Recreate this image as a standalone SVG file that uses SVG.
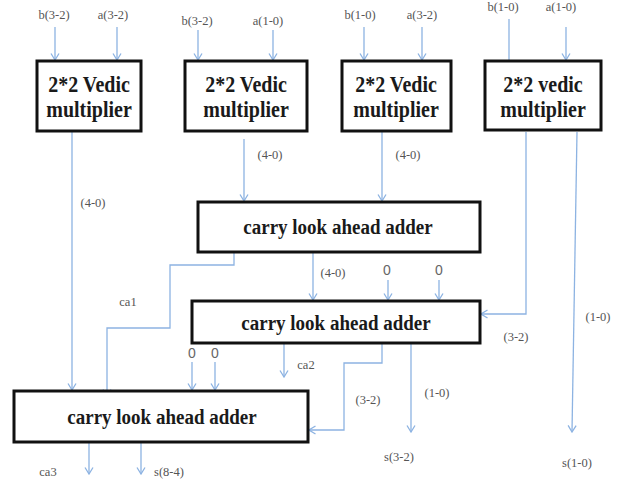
<svg xmlns="http://www.w3.org/2000/svg" width="623" height="479" viewBox="0 0 623 479">
<defs>
<marker id="arr" markerUnits="userSpaceOnUse" markerWidth="8" markerHeight="10" viewBox="0 0 8 10" refX="7" refY="5" orient="auto">
<path d="M0.5,1 L7,5 L0.5,9" fill="none" stroke="#8db3e2" stroke-width="1.3"/>
</marker>
</defs>
<style>
.box{fill:#fff;stroke:#111;stroke-width:3}
.big{font-weight:bold;font-size:20px;fill:#1a1a1a;text-anchor:middle}
.cla{font-weight:bold;font-size:19px;fill:#1a1a1a;text-anchor:middle}
.lbl{font-size:12.5px;fill:#555;text-anchor:middle}
.zero{font-size:14px;fill:#666;text-anchor:middle}
.w{fill:none;stroke:#8db3e2;stroke-width:1.3}
.a{marker-end:url(#arr)}
</style>
<rect width="623" height="479" fill="#fff"/>

<g id="connectors">
<line class="w a" x1="55" y1="27" x2="55" y2="60"/>
<line class="w a" x1="117" y1="27" x2="117" y2="60"/>
<line class="w a" x1="198" y1="30" x2="198" y2="60"/>
<line class="w a" x1="273" y1="30" x2="273" y2="60"/>
<line class="w a" x1="364" y1="27" x2="364" y2="60"/>
<line class="w a" x1="422" y1="27" x2="422" y2="60"/>
<line class="w" x1="509" y1="19" x2="509" y2="60"/>
<line class="w a" x1="566" y1="27" x2="566" y2="60"/>
<line class="w a" x1="72" y1="132" x2="72" y2="390"/>
<line class="w a" x1="244" y1="139" x2="244" y2="201"/>
<line class="w a" x1="382" y1="132" x2="382" y2="201"/>
<polyline class="w a" points="526,132 526,314 481,314"/>
<line class="w a" x1="577" y1="132" x2="572" y2="432"/>
<polyline class="w a" points="234,246 234,265 170,265 170,328 107,328 107,396"/>
<line class="w a" x1="313" y1="253" x2="313" y2="300"/>
<line class="w a" x1="388" y1="280" x2="388" y2="300"/>
<line class="w a" x1="439" y1="280" x2="439" y2="300"/>
<line class="w a" x1="284" y1="344" x2="284" y2="377"/>
<polyline class="w a" points="382,337 382,363 344,363 344,430 309,430"/>
<line class="w a" x1="411" y1="344" x2="411" y2="432"/>
<line class="w a" x1="192" y1="362" x2="192" y2="390"/>
<line class="w a" x1="215" y1="362" x2="215" y2="390"/>
<line class="w a" x1="89" y1="443" x2="89" y2="474"/>
<line class="w a" x1="141" y1="443" x2="141" y2="474"/>
</g>

<g id="labels" font-family="'Liberation Serif', 'DejaVu Serif', 'Noto Serif', serif">
<text class="lbl" x="54" y="19">b(3-2)</text>
<text class="lbl" x="113" y="19">a(3-2)</text>
<text class="lbl" x="197" y="25">b(3-2)</text>
<text class="lbl" x="268" y="25">a(1-0)</text>
<text class="lbl" x="360" y="19">b(1-0)</text>
<text class="lbl" x="422" y="19">a(3-2)</text>
<text class="lbl" x="503" y="11">b(1-0)</text>
<text class="lbl" x="561" y="11">a(1-0)</text>
<text class="lbl" x="93" y="207">(4-0)</text>
<text class="lbl" x="270" y="159">(4-0)</text>
<text class="lbl" x="408" y="159">(4-0)</text>
<text class="lbl" x="333" y="277">(4-0)</text>
<text class="lbl" x="128" y="306">ca1</text>
<text class="lbl" x="516" y="341">(3-2)</text>
<text class="lbl" x="598" y="321">(1-0)</text>
<text class="lbl" x="306" y="369">ca2</text>
<text class="lbl" x="368" y="404">(3-2)</text>
<text class="lbl" x="437" y="397">(1-0)</text>
<text class="lbl" x="399" y="461">s(3-2)</text>
<text class="lbl" x="577" y="467">s(1-0)</text>
<text class="lbl" x="48" y="476">ca3</text>
<text class="lbl" x="169" y="476">s(8-4)</text>
</g>
<g id="zeros" font-family="'Liberation Sans', Arial, sans-serif">
<text class="zero" x="387" y="275">0</text>
<text class="zero" x="439" y="275">0</text>
<text class="zero" x="192" y="358">0</text>
<text class="zero" x="215" y="358">0</text>
</g>

<g id="mult1" font-family="'Liberation Serif', 'DejaVu Serif', 'Noto Serif', serif">
<rect class="box" x="37" y="61" width="104" height="70"/>
<text class="big" transform="translate(89,92) scale(1,1.15)">2*2 Vedic</text>
<text class="big" transform="translate(89,117) scale(1,1.15)">multiplier</text>
</g>
<g id="mult2" font-family="'Liberation Serif', 'DejaVu Serif', 'Noto Serif', serif">
<rect class="box" x="185" y="61" width="122" height="70"/>
<text class="big" transform="translate(246,92) scale(1,1.15)">2*2 Vedic</text>
<text class="big" transform="translate(246,117) scale(1,1.15)">multiplier</text>
</g>
<g id="mult3" font-family="'Liberation Serif', 'DejaVu Serif', 'Noto Serif', serif">
<rect class="box" x="342" y="61" width="109" height="70"/>
<text class="big" transform="translate(396,92) scale(1,1.15)">2*2 Vedic</text>
<text class="big" transform="translate(396,117) scale(1,1.15)">multiplier</text>
</g>
<g id="mult4" font-family="'Liberation Serif', 'DejaVu Serif', 'Noto Serif', serif">
<rect class="box" x="485" y="61" width="116" height="69"/>
<text class="big" transform="translate(543,92) scale(1,1.15)">2*2 vedic</text>
<text class="big" transform="translate(543,117) scale(1,1.15)">multiplier</text>
</g>
<g id="cla1" font-family="'Liberation Serif', 'DejaVu Serif', 'Noto Serif', serif">
<rect class="box" x="198" y="202" width="282" height="50"/>
<text class="cla" transform="translate(338,234) scale(1,1.1)">carry look ahead adder</text>
</g>
<g id="cla2" font-family="'Liberation Serif', 'DejaVu Serif', 'Noto Serif', serif">
<rect class="box" x="192" y="301" width="288" height="42"/>
<text class="cla" transform="translate(336,330) scale(1,1.1)">carry look ahead adder</text>
</g>
<g id="cla3" font-family="'Liberation Serif', 'DejaVu Serif', 'Noto Serif', serif">
<rect class="box" x="14" y="391" width="294" height="51"/>
<text class="cla" transform="translate(162,424) scale(1,1.1)">carry look ahead adder</text>
</g>
</svg>
